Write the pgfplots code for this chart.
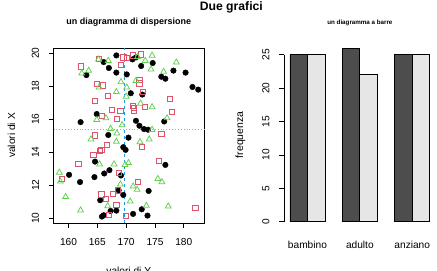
\documentclass[border=0pt]{standalone}
\usepackage{pgfplots}
\pgfplotsset{compat=1.18}
\usepackage{fontspec}
\setmainfont{Liberation Sans}
\definecolor{rred}{HTML}{DF536B}
\definecolor{rgreen}{HTML}{61D04F}
\definecolor{rblue}{HTML}{2297E6}
\definecolor{rcyan}{HTML}{28E2E5}
\definecolor{dgray}{HTML}{4D4D4D}
\definecolor{lgray}{HTML}{E6E6E6}
\begin{document}
\begin{tikzpicture}[x=1bp,y=1bp]
\useasboundingbox (0,0) rectangle (437,270);
\pgfplotsset{
  rstyle/.style={
    scale only axis,
    /pgf/number format/assume math mode=true,
    tick align=outside,
    tick pos=left,
    major tick length=5bp,
    every tick/.style={black,line width=0.75bp},
    tick label style={font=\fontsize{10.2}{12}\selectfont},
    axis line style={line width=0.75bp,black},
    clip=false,
  }
}
% ---- scatter ----
\begin{axis}[rstyle,
  at={(53.5bp,47bp)}, anchor=south west,
  width=150.5bp, height=175bp,
  xmin=157.4, xmax=183.5, ymin=9.71, ymax=20.31,
  xtick={160,165,170,175,180},
  ytick={10,12,14,16,18,20},
  yticklabel style={rotate=90, anchor=center, yshift=13bp},
  xticklabel style={yshift=-7bp},
]
\addplot[only marks, mark=*, mark size=2.8bp, mark options={fill=black,draw=black}] coordinates {
(168.3,19.86) (171.1,19.62) (171.7,19.74) (166.1,19.46) (167.0,19.10) (172.6,19.22) (174.6,19.40) (168.3,18.82) (170.1,18.71) (163.1,18.67) (178.2,18.94) (180.3,18.82) (176.1,18.57) (176.8,18.45) (181.5,17.95) (182.5,17.79) (170.8,17.57) (172.8,17.49) (162.1,15.82) (164.9,16.31) (171.7,15.90) (172.3,15.60) (173.1,15.40) (173.8,15.36) (176.6,15.86) (166.9,15.04) (170.4,14.88) (169.5,14.30) (169.9,14.14) (164.6,13.43) (176.8,13.23) (167.1,12.91) (166.2,12.71) (164.5,12.49) (160.1,12.63) (162.0,12.19) (169.1,12.59) (168.7,11.69) (173.9,11.65) (169.5,11.41) (165.5,11.09) (168.3,10.46) (167.3,10.44) (172.7,10.54) (171.2,10.26) (173.7,10.16) (165.8,10.10) (166.1,10.18)
};
\addplot[only marks, mark=square, mark size=2.6bp, mark options={draw=rred,line width=0.75bp}] coordinates {
(162.2,19.20) (165.3,19.66) (169.1,19.28) (169.5,19.74) (170.1,19.72) (171.2,19.86) (172.5,19.92) (164.9,18.15) (165.9,18.05) (172.3,18.37) (172.3,18.17) (166.8,17.39) (164.6,17.13) (172.9,17.67) (177.6,17.21) (167.5,16.55) (171.2,16.81) (171.4,16.67) (173.3,16.75) (169.0,16.49) (171.4,16.49) (177.9,16.43) (165.8,16.18) (168.4,16.00)
(164.6,15.02) (176.1,15.10) (166.7,14.44) (165.5,14.10) (165.7,14.16) (172.7,14.34) (164.3,13.86) (161.7,13.31) (175.7,13.45) (168.8,12.75) (158.9,12.39) (172.0,12.19) (165.7,11.45) (167.7,11.49) (166.5,11.18) (168.3,10.82) (168.6,11.69) (167.0,10.18) (169.9,10.16) (182.0,10.64)
};
\addplot[only marks, mark=triangle, mark size=3.4bp, mark options={draw=rgreen,line width=0.75bp}] coordinates {
(165.2,19.62) (166.9,19.54) (172.0,19.78) (174.5,19.86) (173.3,19.54) (174.3,19.02) (178.7,19.44) (162.3,18.78) (163.5,18.94) (176.5,18.88) (169.1,18.25) (171.7,18.33) (165.3,17.93) (170.1,17.93) (168.3,17.65) (170.0,17.37) (172.5,16.95) (174.5,16.73) (164.9,15.96) (166.5,16.06) (177.1,16.06) (167.3,15.42) (169.3,15.64) (168.4,15.14) (174.5,15.36)
(163.9,14.78) (168.3,14.64) (172.4,14.62) (174.0,14.78) (165.4,13.27) (167.9,13.27) (170.4,13.35) (169.8,13.23) (158.4,12.77) (158.6,12.23) (175.5,12.39) (176.2,12.19) (169.0,12.05) (171.2,11.93) (171.9,11.73) (159.5,11.30) (170.7,11.02) (166.8,10.74) (162.1,10.48) (173.5,10.76) (177.3,10.72)
};
\addplot[rblue, dashed, line width=0.75bp] coordinates {(169.7,9.71) (169.7,20.31)};
\addplot[rcyan, dotted, line width=0.9bp] coordinates {(157.4,15.37) (183.5,15.37)};
\end{axis}
% ---- bars ----
\begin{axis}[rstyle,
  at={(284.4bp,41.4bp)}, anchor=south west,
  width=150.9bp, height=187.5bp,
  xmin=0.68, xmax=9.32, ymin=-1.04, ymax=27.04,
  axis line style={draw=none},
  xtick={2,5,8}, xticklabels={bambino,adulto,anziano},
  x tick style={draw=none},
  ytick={0,5,10,15,20,25},
  yticklabel style={rotate=90, anchor=center, yshift=13.5bp},
  xticklabel style={yshift=-3.7bp},
]
\addplot[ybar, bar width=1, bar shift=0pt, fill=dgray, draw=black, line width=0.75bp] coordinates {(1.5,25) (4.5,26) (7.5,25)};
\addplot[ybar, bar width=1, bar shift=0pt, fill=lgray, draw=black, line width=0.75bp] coordinates {(2.5,25) (5.5,22) (8.5,25)};
\draw[line width=0.75bp] (axis cs:0.68,0) -- (axis cs:0.68,25);
\end{axis}
% ---- texts ----
\node[anchor=base, font=\fontsize{12.25}{14}\selectfont\bfseries, inner sep=0] at (231.3,260) {Due grafici};
\node[anchor=base, font=\fontsize{9}{11}\selectfont\bfseries, inner sep=0] at (128.75,245.5) {un diagramma di dispersione};
\node[anchor=base, font=\fontsize{6.25}{8}\selectfont\bfseries, inner sep=0] at (359.9,246) {un diagramma a barre};
\node[anchor=base, font=\fontsize{10.2}{12}\selectfont, inner sep=0] at (128.75,-4) {valori di Y};
\node[anchor=base, rotate=90, font=\fontsize{10.2}{12}\selectfont, inner sep=0] at (15,134.5) {valori di X};
\node[anchor=base, rotate=90, font=\fontsize{10.5}{12}\selectfont, inner sep=0] at (243,135.2) {frequenza};
\end{tikzpicture}
\end{document}
